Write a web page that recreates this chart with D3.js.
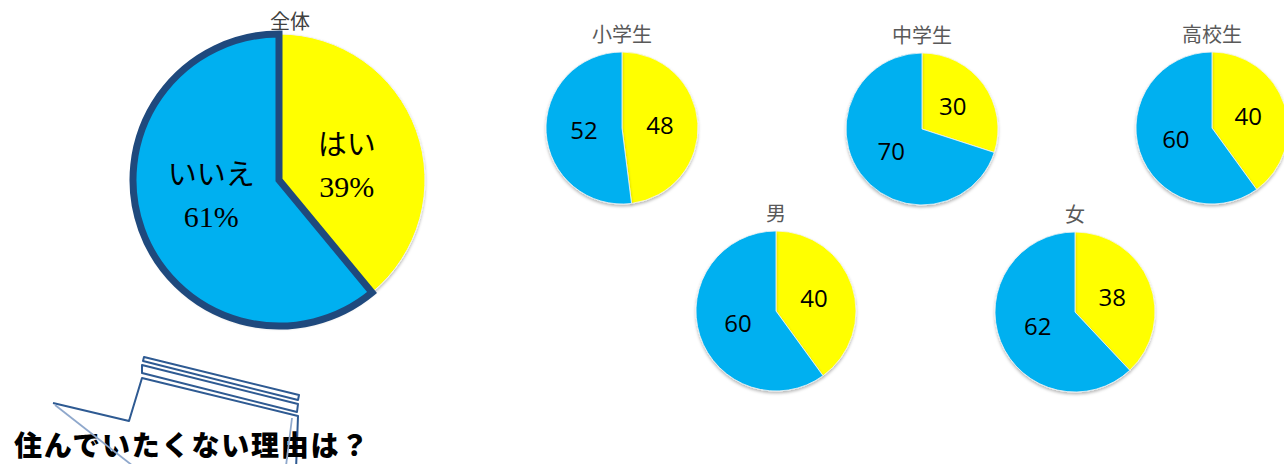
<!DOCTYPE html>
<html>
<head>
<meta charset="utf-8">
<script src="https://cdn.jsdelivr.net/npm/d3@7"></script>
<style>
  body { margin: 0; background: #fff; }
  svg { display: block; }
</style>
</head>
<body>
<div id="chart"></div>
<script>
// data
const mainTitle = '全体';
const mainLabels = ['はい', 'いいえ'];
const mainValues = [39, 61];

const groupNames = ['小学生', '中学生', '高校生', '男', '女'];
const yesValues = [48, 30, 40, 40, 38];
const noValues = [52, 70, 60, 60, 62];

const captionText = '住んでいたくない理由は？';

// layout (not data)
const W = 1284, H = 464;
const colors = ['#FFFF00', '#00B0F0'];
const smallPos = [
    { cx: 622, cy: 128, r: 76 },
    { cx: 922, cy: 129, r: 76 },
    { cx: 1212, cy: 128, r: 76 },
    { cx: 776, cy: 311, r: 80 },
    { cx: 1075, cy: 312, r: 80 }
];

const svg = d3.select('#chart').append('svg')
    .attr('width', W)
    .attr('height', H);

svg.append('rect').attr('width', W).attr('height', H).attr('fill', '#fff');

const defs = svg.append('defs');
const shadow = defs.append('filter').attr('id', 'shadow')
    .attr('x', '-20%').attr('y', '-20%').attr('width', '140%').attr('height', '140%');
shadow.append('feDropShadow')
    .attr('dx', 0).attr('dy', 2).attr('stdDeviation', 1.5)
    .attr('flood-color', '#000').attr('flood-opacity', 0.28);

const pie = d3.pie().sort(null).value(d => d);

// main pie
const mainR = 146;
const mainG = svg.append('g').attr('transform', 'translate(279,180)');
const mainArc = d3.arc().innerRadius(0).outerRadius(mainR);
const mainLabelArc = d3.arc().innerRadius(72).outerRadius(72);
const mainArcs = pie(mainValues);

mainG.selectAll('path.slice')
    .data(mainArcs)
    .enter()
    .append('path')
    .attr('class', 'slice')
    .attr('d', mainArc)
    .attr('fill', (d, i) => colors[i])
    .attr('filter', 'url(#shadow)')
    .attr('stroke', '#f2f2f2')
    .attr('stroke-width', 1);

// highlighted slice border
mainG.append('path')
    .attr('d', mainArc(mainArcs[1]))
    .attr('fill', 'none')
    .attr('stroke', '#1F497D')
    .attr('stroke-width', 7)
    .attr('stroke-linejoin', 'miter');

const mainText = mainG.selectAll('text.lbl')
    .data(mainArcs)
    .enter()
    .append('text')
    .attr('class', 'lbl')
    .attr('text-anchor', 'middle')
    .attr('font-family', '"Liberation Serif", "Noto Sans CJK JP", serif')
    .attr('font-size', 29)
    .attr('fill', '#000')
    .attr('transform', d => {
        const c = mainLabelArc.centroid(d);
        return `translate(${c[0]},${c[1] * 0.6})`;
    });
mainText.append('tspan')
    .attr('x', 0).attr('y', -10)
    .attr('font-family', '"Noto Sans CJK JP", sans-serif')
    .attr('font-weight', 400)
    .text((d, i) => mainLabels[i]);
mainText.append('tspan')
    .attr('x', 0).attr('y', 32)
    .attr('font-size', 30)
    .text((d, i) => d.value + '%');

svg.append('text')
    .attr('x', 290).attr('y', 29)
    .attr('text-anchor', 'middle')
    .attr('font-family', '"Noto Sans CJK JP", sans-serif')
    .attr('font-size', 20)
    .attr('fill', '#404040')
    .text(mainTitle);

// small pies
groupNames.forEach((name, gi) => {
    const p = smallPos[gi];
    const g = svg.append('g').attr('transform', `translate(${p.cx},${p.cy})`);
    const arc = d3.arc().innerRadius(0).outerRadius(p.r);
    const labelArc = d3.arc().innerRadius(p.r * 0.5).outerRadius(p.r * 0.5);
    const arcs = pie([yesValues[gi], noValues[gi]]);

    g.selectAll('path')
        .data(arcs)
        .enter()
        .append('path')
        .attr('d', arc)
        .attr('fill', (d, i) => colors[i])
        .attr('stroke', '#f4f4f4')
        .attr('stroke-width', 0.8)
        .attr('filter', 'url(#shadow)');

    g.selectAll('text.val')
        .data(arcs)
        .enter()
        .append('text')
        .attr('class', 'val')
        .attr('x', d => labelArc.centroid(d)[0])
        .attr('y', d => labelArc.centroid(d)[1])
        .attr('dy', '0.36em')
        .attr('text-anchor', 'middle')
        .attr('font-family', '"Open Sans", sans-serif')
        .attr('font-size', 24)
        .attr('fill', '#000')
        .text(d => d.value);

    svg.append('text')
        .attr('x', p.cx).attr('y', p.cy - p.r - 10)
        .attr('text-anchor', 'middle')
        .attr('font-family', '"Noto Sans CJK JP", sans-serif')
        .attr('font-size', 20)
        .attr('fill', '#595959')
        .text(name);
});

// decorative speech-bubble doodle
const deco = svg.append('g')
    .attr('fill', 'none')
    .attr('stroke', '#2E5A92')
    .attr('stroke-width', 2)
    .attr('stroke-linejoin', 'round');
deco.append('path').attr('d', 'M53,403 L129,421 L142,378 L298,416 L296,470');
deco.append('path').attr('d', 'M142,365 L298,404 L297,412 L142,373 Z');
deco.append('path').attr('d', 'M144,357 L299,395 L298,400 L143,361 Z');

svg.append('text')
    .attr('x', 14).attr('y', 456)
    .attr('font-family', '"Noto Sans CJK JP", sans-serif')
    .attr('font-weight', 900)
    .attr('font-size', 28)
    .attr('letter-spacing', 1.8)
    .attr('fill', '#000')
    .text(captionText);

const faint = svg.append('g')
    .attr('fill', 'none')
    .attr('stroke', '#8FA8CC')
    .attr('stroke-width', 1.8);
faint.append('path').attr('d', 'M55,405 L133,466');
faint.append('path').attr('d', 'M292,418 L286,466');
</script>
</body>
</html>
